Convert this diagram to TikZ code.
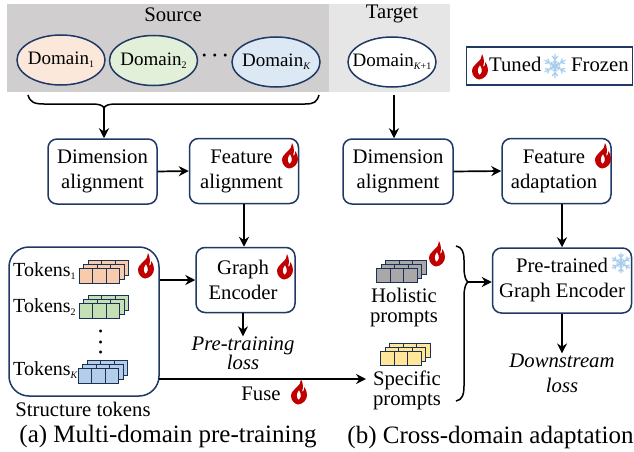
\documentclass[tikz,border=0pt]{standalone}
\usepackage{fontspec}
\setmainfont{Liberation Serif}
\usetikzlibrary{positioning,shapes.geometric,arrows.meta}
\definecolor{boxblue}{HTML}{1F3864}
\definecolor{flamered}{HTML}{C00000}
\definecolor{iceblue}{HTML}{A9CDEC}
\definecolor{srcgray}{HTML}{D0CECE}
\definecolor{tgtgray}{HTML}{E7E6E6}
\tikzset{
	modbox/.style={draw=boxblue,line width=1.5pt,rounded corners=9pt,fill=white,align=center,inner sep=0pt},
	domnode/.style={draw=boxblue,line width=1.5pt,ellipse,minimum width=88pt,minimum height=50pt,inner sep=0pt,font=\fontsize{19}{20}\selectfont},
	txt/.style={align=center,inner sep=0pt,font=\fontsize{20.7}{25}\selectfont},
	tightlabel/.style={align=center,inner sep=0pt,font=\fontsize{20.7}{20}\selectfont},
	flow/.style={-{Stealth[length=10pt,width=10pt]},line width=1.7pt},
	bracket/.style={line width=1.5pt},
	flame/.pic={
			\fill[flamered,even odd rule](2,-13)..controls (3,-6) and (-8,-3) .. (-8,4)
			..controls (-8,9) and (-4,12) .. (-1,12.5)..controls (4,12) and (8,8) .. (8,3)
			..controls (8,0) and (7,-2) .. (5.5,-5)..controls (5.5,-2) and (4.5,-1) .. (3,0)
			..controls (4.5,-5) and (4,-9) .. (2,-13)--cycle
			(0,-2)..controls (-3,2) and (-3,5) .. (-0.5,8)..controls (2,6) and (3,3) .. (0,-2)--cycle;
		},
	snow/.pic={
			\foreach \ang in {30,90,150,210,270,330}{
					\draw[iceblue,line width=1.2pt,rotate=\ang](0,0)--(12,0)
					(6.5,0)--(10,2.8)(6.5,0)--(10,-2.8)(3,0)--(5,1.9)(3,0)--(5,-1.9);
				}
			\fill[iceblue](0,0) circle (3);
		},
	tokcell/.style={draw=boxblue!85!black,line width=0.7pt},
}
\newcommand{\lowsub}[1]{\raisebox{-3pt}{\fontsize{10}{10}\selectfont #1}}
\newcommand{\stacklayer}[3]{
	\foreach \k in {0,1,2}{
			\filldraw[tokcell,fill=#3](#1+13.5*\k,#2)rectangle ++(13.5,-14.5);
		}
}
% one stack of three layers, lower left corner of the front one
\newcommand{\tokenstack}[3]{
	\stacklayer{#1+9}{#2-8}{#3}
	\stacklayer{#1+4.5}{#2-4}{#3}
	\stacklayer{#1}{#2}{#3}
}
\definecolor{tokorange}{HTML}{F8CBAD}
\definecolor{tokgreen}{HTML}{C5E0B4}
\definecolor{tokblue}{HTML}{B4CDE9}
\definecolor{tokgray}{HTML}{A9A7A7}
\definecolor{tokyellow}{HTML}{FFE699}
\begin{document}
\begin{tikzpicture}[x=1pt,y=-1pt,font=\fontsize{20.7}{25}\selectfont]
	\useasboundingbox (0,0) rectangle (634,452);
	% backgrounds
	\fill[srcgray](7,4) rectangle (329,92);
	\fill[tgtgray](329,4) rectangle (450,92);
	\node[txt] (source) at (173,15) {Source};
	\node[txt] (target) at (392,14) {Target};
	% domains
	\node[domnode,fill=tokorange!45!white] (dom1) at (61,60) {\makebox[0pt]{Domain\lowsub{1}}};
	\node[domnode,fill=tokgreen!50!white] (dom2) at (153.5,60.5) {\makebox[0pt]{Domain\lowsub{2}}};
	\node[domnode,fill=tokblue!45!white] (domk) at (276,62) {\makebox[0pt]{Domain\lowsub{\itshape K}}};
	\node[domnode,fill=white] (domt) at (392,62) {\makebox[0pt]{Domain\lowsub{\itshape K\upshape+1}}};
	\node[tightlabel,font=\fontsize{18}{20}\selectfont\bfseries] (dots) at (215,58) {· · ·};
	% legend
	\node[draw=boxblue,line width=1.6pt,minimum width=166pt,minimum height=38pt,inner sep=0pt] (legend) at (549.5,66) {};
	\pic at (480,67) {flame};
	\node[txt,anchor=west] (tuned) at (489,64) {Tuned};
	\pic at (555,66) {snow};
	\node[txt,anchor=west] (frozen) at (571,65) {Frozen};
	% left column
	\node[modbox,minimum width=109pt,minimum height=65pt] (dim1) at (102.5,171.5) {Dimension\\alignment};
	\node[modbox,minimum width=109pt,minimum height=65pt] (feat1) at (244,171) {Feature\hspace*{5pt}\\alignment\hspace*{5pt}};
	\pic at (290,156) {flame};
	\node[modbox,minimum width=99pt,minimum height=65pt] (enc1) at (245.5,280) {Graph\hspace*{5pt}\\Encoder\hspace*{5pt}};
	\pic at (285,267) {flame};
	\node[tightlabel,font=\fontsize{20.7}{19}\selectfont\itshape] (loss1) at (243,353) {Pre-training\\loss};
	\node[draw=boxblue,line width=1.5pt,rounded corners=20pt,minimum width=150pt,minimum height=149pt,inner sep=0pt] (struct) at (84,321.5) {};
	\node[txt,anchor=west,font=\fontsize{20}{25}\selectfont] (tok1) at (13,271) {Tokens\lowsub{1}};
	\node[txt,anchor=west,font=\fontsize{20}{25}\selectfont] (tok2) at (13,307) {Tokens\lowsub{2}};
	\node[txt,anchor=west,font=\fontsize{20}{25}\selectfont] (tokk) at (13,370) {Tokens\lowsub{\itshape K}};
	\tokenstack{79}{283}{tokorange}
	\tokenstack{79}{318}{tokgreen}
	\tokenstack{78}{383}{tokblue}
	\node[tightlabel,rotate=90,font=\fontsize{18}{20}\selectfont\bfseries] (vdots) at (103,342) {· · ·};
	\pic at (146,266) {flame};
	\node[txt] (structlab) at (83,409) {Structure tokens};
	\node[txt] (fuse) at (261,394) {Fuse};
	\pic at (299,392) {flame};
	% right column
	\node[modbox,minimum width=110pt,minimum height=65pt] (dim2) at (398,171.5) {Dimension\\alignment};
	\node[modbox,minimum width=109pt,minimum height=65pt] (feat2) at (556.5,171) {Feature\hspace*{5pt}\\adaptation\hspace*{5pt}};
	\pic at (603,156) {flame};
	\node[modbox,minimum width=139pt,minimum height=65pt] (enc2) at (562,280.5) {Pre-trained\\Graph Encoder};
	\pic[scale=0.85] at (621,263) {snow};
	\node[txt,font=\fontsize{20.7}{25}\selectfont\itshape] (loss2) at (562,373) {Downstream\\loss};
	\tokenstack{376.5}{282.5}{tokgray}
	\pic at (437,254) {flame};
	\node[tightlabel] (holistic) at (404,307.5) {Holistic\\prompts};
	\tokenstack{380.5}{365.5}{tokyellow}
	\node[tightlabel] (specific) at (407,390) {Specific\\prompts};
	% braces
	\coordinate (bracel) at (28,95);
	\coordinate (bracer) at (319,95);
	\coordinate (bracem) at (104,109);
	\draw[bracket](bracel)..controls (30,102) and (34,104) .. (44,104)--(90,104)
	..controls (99,104) and (104,105) .. (bracem)..controls (104,105) and (109,104) .. (118,104)
	--(305,104)..controls (314,104) and (317,102) .. (bracer);
	\coordinate (bracet) at (456,246);
	\coordinate (braceb) at (456,401);
	\coordinate (bracetip) at (468,282);
	\draw[bracket](bracet)..controls (462,247) and (464,252) .. (464,260)--(464,268)
	..controls (464,276) and (466,281) .. (bracetip)..controls (466,283) and (464,288) .. (464,296)
	--(464,386)..controls (464,395) and (462,400) .. (braceb);
	% connectors
	\coordinate (tgttop) at (394,95);
	\draw[flow] (bracem)--(dim1.north-|bracem);
	\draw[flow] (tgttop)--(dim2.north-|tgttop);
	\draw[flow] (dim1.east)--(feat1.west);
	\draw[flow] (dim2.east)--(feat2.west);
	\draw[flow] (feat1.south)--(enc1.north-|feat1.south);
	\draw[flow] (feat2.south-|enc2.north)--(enc2.north);
	\draw[flow] (enc1.south-|loss1.north)--(loss1.north);
	\draw[flow] (enc2.south)--(loss2.north);
	\draw[flow] (struct.east|-enc1.west)--(enc1.west);
	\draw[flow] (bracetip)--(enc2.west|-bracetip);
	\coordinate (fuseout) at (159,379);
	\coordinate (fusein) at (366,379);
	\draw[flow] (fuseout)--(fusein);
	% captions
	\node[txt,font=\fontsize{25}{28}\selectfont] (capa) at (168,437) {(a) Multi-domain pre-training};
	\node[txt,font=\fontsize{25}{28}\selectfont] (capb) at (490.5,437) {(b) Cross-domain adaptation};
\end{tikzpicture}
\end{document}
